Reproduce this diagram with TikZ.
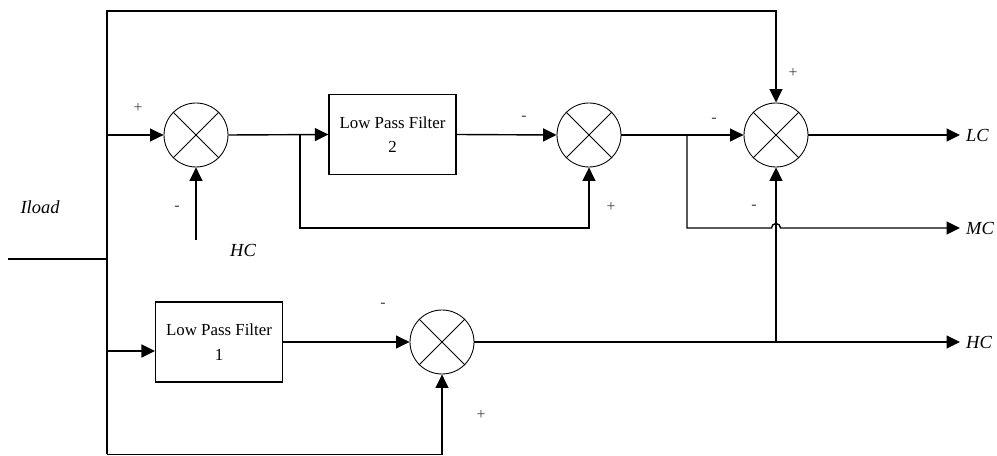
\documentclass[tikz,border=0pt]{standalone}
\usepackage{fontspec}
\setmainfont{Liberation Serif}
\usetikzlibrary{arrows.meta}

\tikzset{
  sumnode/.style={draw,circle,minimum size=1.28cm,inner sep=0pt,line width=0.5pt},
  lpfbox/.style={draw,rectangle,minimum width=2.54cm,minimum height=1.6cm,align=center,
    line width=0.7pt,font=\fontsize{9.6}{14}\selectfont},
  wire/.style={line width=0.8pt},
  sig/.style={wire,-{Triangle[length=2.7mm,width=2.6mm]}},
  sgn/.style={font=\fontsize{9}{10}\selectfont,text=black!75},
  lbl/.style={font=\fontsize{10.5}{12}\selectfont\itshape}
}

\begin{document}
\begin{tikzpicture}
\useasboundingbox (0,0) rectangle (19.94,9.12);
% summing junctions
\node[sumnode] (s1) at (3.92,6.42) {};
\node[sumnode] (s2) at (11.78,6.42) {};
\node[sumnode] (s3) at (15.52,6.42) {};
\node[sumnode] (s4) at (8.84,2.28) {};
\foreach \s in {s1,s2,s3,s4}
  \draw[line width=0.5pt] (\s.45) -- (\s.225) (\s.135) -- (\s.315);
% filters
\node[lpfbox] (lpfb) at (7.85,6.43) {Low Pass Filter\\2};
\node[lpfbox] (lpfa) at (4.38,2.28) {Low Pass Filter\\1};
% outputs
\node[lbl,anchor=west] (lc) at (19.2,6.42) {LC};
\node[lbl,anchor=west] (mc) at (19.2,4.56) {MC};
\node[lbl,anchor=west] (hc) at (19.2,2.28) {HC};
\node[lbl] (iload) at (0.8,4.98) {Iload};
\node[lbl] (hcin) at (4.86,4.12) {HC};
% points on the wires
\coordinate (inl) at (0.16,3.94);
\coordinate (bin) at (2.14,3.94);
\coordinate (btop) at (2.14,8.9);
\coordinate (bbot) at (2.14,0.03);
\coordinate (bin1) at (2.14,2.1);
\coordinate (hcs) at (3.92,4.32);
\coordinate (br1) at (6.0,6.42);
\coordinate (br1b) at (6.0,4.56);
\coordinate (br2) at (13.74,6.42);
\coordinate (br2b) at (13.74,4.56);
\coordinate (jmp) at (15.52,4.56);
\coordinate (jc) at (15.52,2.28);

\draw[wire] (inl) -- (bin);
\draw[sig] (bbot) -- (btop) -| (s3.north);
\draw[sig] (bbot) -| (s4.south);
\draw[sig] (s1.west -| btop) -- (s1.west);
\draw[sig] (bin1) -- (bin1 -| lpfa.west);
\draw[sig] (hcs) -- (s1.south);
\draw[sig] (s1.east) -- (lpfb.west);
\draw[sig] (br1) -- (br1b) -| (s2.south);
\draw[sig] (lpfb.east) -- (s2.west);
\draw[sig] (s2.east) -- (s3.west);
\draw[sig] (s3.east) -- (lc.west);
\draw[sig] (br2) -- (br2b) -- ([xshift=-0.09cm]jmp)
  arc[start angle=180,end angle=0,radius=0.09] -- (mc.west);
\draw[sig] (lpfa.east) -- (s4.west);
\draw[sig] (s4.east) -- (hc.west);
\draw[sig] (jc) -- (s3.south);

% signs
\node[sgn] (p1) at (2.76,6.96) {+};
\node[sgn] (m1) at (3.54,4.96) {-};
\node[sgn] (m2) at (10.48,6.76) {-};
\node[sgn] (p2) at (12.22,4.98) {+};
\node[sgn] (m3) at (14.28,6.72) {-};
\node[sgn] (p3) at (15.86,7.66) {+};
\node[sgn] (m4) at (15.08,4.98) {-};
\node[sgn] (m5) at (7.66,3.02) {-};
\node[sgn] (p4) at (9.62,0.82) {+};
\end{tikzpicture}
\end{document}
